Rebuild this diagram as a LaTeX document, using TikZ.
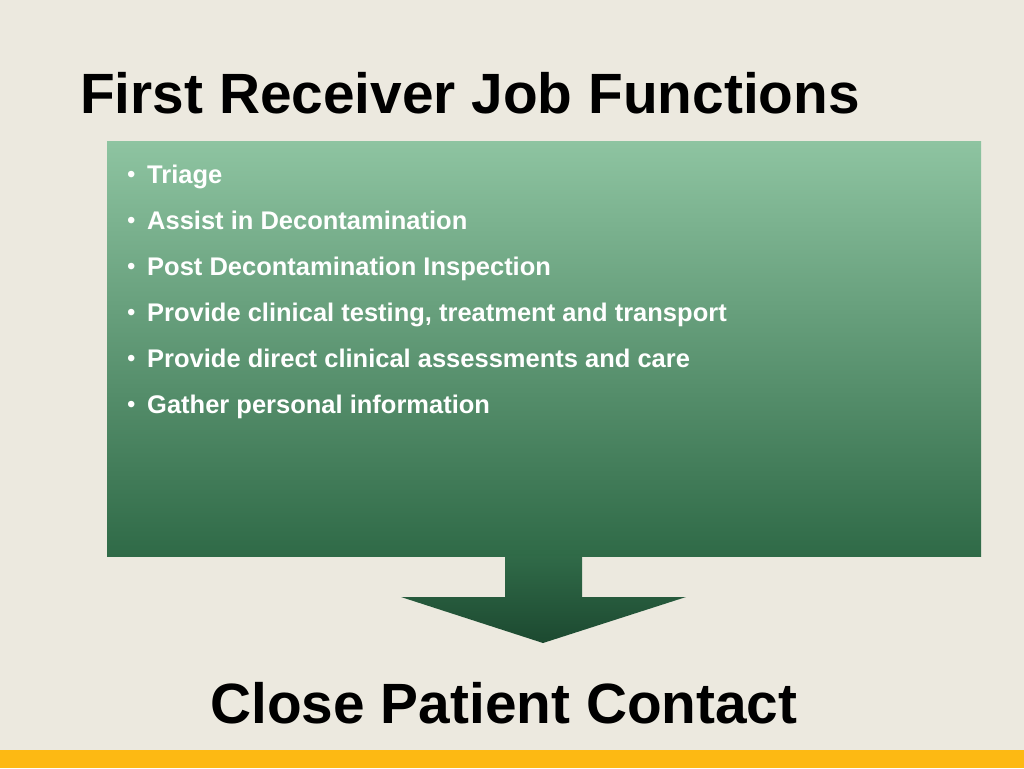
\documentclass[tikz,border=0pt]{standalone}
\usepackage{fontspec}
\setmainfont{Liberation Sans}
\usetikzlibrary{positioning}
\definecolor{slidebg}{HTML}{ECE9DF}
\definecolor{barcol}{HTML}{FDB913}
\definecolor{boxtop}{HTML}{8EC4A1}
\definecolor{boxbot}{HTML}{2F6A47}
\definecolor{arrtop}{HTML}{306A48}
\definecolor{arrbot}{HTML}{1C4930}
\newcommand{\itembullet}{\makebox[20pt][l]{\raisebox{1pt}{\fontsize{24}{26}\selectfont\mdseries•}}}
\tikzset{
  item/.style={anchor=base west,text=white,font=\fontsize{25.5}{28}\selectfont\bfseries,inner sep=0pt},
  heading/.style={font=\fontsize{56.8}{60}\selectfont\bfseries,inner sep=0pt}
}

\begin{document}
\begin{tikzpicture}[x=1pt,y=-1pt]
            \fill[slidebg] (0,0) rectangle (1024,768);
            \useasboundingbox (0,0) rectangle (1024,768);
            \fill[barcol] (0,750) rectangle (1024,768);

            \node[heading,anchor=base west] (title) at (80,113) {First Receiver Job Functions};

            \shade[top color=boxtop,bottom color=boxbot] (107,141) rectangle (981,556);
            \coordinate (stemL) at (505,556);
            \coordinate (stemR) at (582,556);
            \shade[top color=arrtop,bottom color=arrbot] (stemL) -- (505,597) -- (401,597) -- (543,643) -- (686,597) -- (stemR |- 0,597) -- (stemR) -- cycle;

            \node[item] (t1) at (127,183) {\itembullet Triage};
            \node[item] (t2) at (127,229) {\itembullet Assist in Decontamination};
            \node[item] (t3) at (127,275) {\itembullet Post Decontamination Inspection};
            \node[item] (t4) at (127,321) {\itembullet Provide clinical testing, treatment and transport};
            \node[item] (t5) at (127,367) {\itembullet Provide direct clinical assessments and care};
            \node[item] (t6) at (127,413) {\itembullet Gather personal information};

            \node[heading,anchor=base] (contact) at (504,723) {Close Patient Contact};
\end{tikzpicture}
\end{document}
